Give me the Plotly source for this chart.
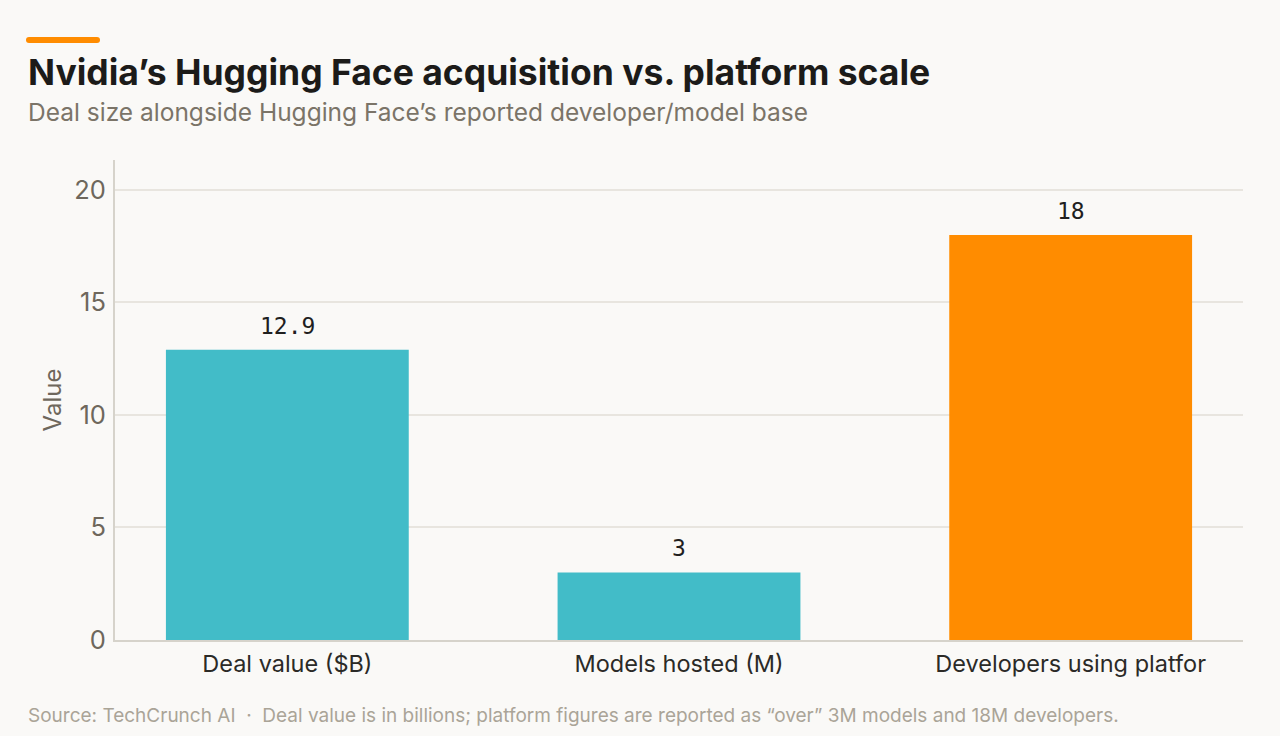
import plotly.graph_objects as go

categories = ["Deal value ($B)", "Models hosted (M)", "Developers using platfor"]
values = [12.9, 3, 18]
value_labels = ["12.9", "3", "18"]
bar_colors = ["#42bcc8", "#42bcc8", "#ff8c00"]
y_ticks = [0, 5, 10, 15, 20]

W, H = 1280, 736
L, R, T, B = 115, 37, 160, 96
PW, PH = W - L - R, H - T - B

def px(xp):
    return (xp - L) / PW

def py(yp):
    return (H - B - yp) / PH

fig = go.Figure()
fig.add_trace(go.Bar(
    x=categories, y=values,
    marker=dict(color=bar_colors, line=dict(width=0)),
    width=0.62,
    hoverinfo="skip",
))

for c, v, t in zip(categories, values, value_labels):
    fig.add_annotation(x=c, y=v, text=t, showarrow=False, yanchor="bottom",
                       yshift=9, xref="x", yref="y",
                       font=dict(family="DejaVu Sans Mono", size=23, color="#1f1f1f"))

# title, subtitle, footer
fig.add_annotation(x=px(26), y=py(72), xref="paper", yref="paper", xanchor="left", yanchor="middle",
                   text="<b>Nvidia’s Hugging Face acquisition vs. platform scale</b>", showarrow=False,
                   font=dict(family="Inter", size=35.5, color="#1c1b19"))
fig.add_annotation(x=px(26), y=py(112), xref="paper", yref="paper", xanchor="left", yanchor="middle",
                   text="Deal size alongside Hugging Face’s reported developer/model base", showarrow=False,
                   font=dict(family="Inter", size=24.5, color="#7b7468"))
fig.add_annotation(x=px(26), y=py(715), xref="paper", yref="paper", xanchor="left", yanchor="middle",
                   text="Source: TechCrunch AI  ·  Deal value is in billions; platform figures are reported as “over” 3M models and 18M developers.",
                   showarrow=False,
                   font=dict(family="Inter", size=19, color="#aaa497"))

# accent bar with rounded ends
x0, x1, y0, y1, r = 26, 100, 37, 43, 3
def P(xp, yp):
    return f"{px(xp)},{py(yp)}"
path = (f"M {P(x0 + r, y0)} L {P(x1 - r, y0)} Q {P(x1, y0)} {P(x1, y0 + r)} "
        f"Q {P(x1, y1)} {P(x1 - r, y1)} L {P(x0 + r, y1)} Q {P(x0, y1)} {P(x0, y1 - r)} "
        f"Q {P(x0, y0)} {P(x0 + r, y0)} Z")
fig.add_shape(type="path", path=path, xref="paper", yref="paper",
              fillcolor="#ff8c00", line=dict(width=0))

fig.update_layout(
    width=W, height=H,
    margin=dict(l=L, r=R, t=T, b=B, pad=0),
    paper_bgcolor="#faf9f7", plot_bgcolor="#faf9f7",
    showlegend=False,
    font=dict(family="Inter"),
    xaxis=dict(
        range=[-0.44, 2.44], showgrid=False, zeroline=False,
        showline=True, linecolor="#d6d3cb", linewidth=2,
        ticks="", tickfont=dict(family="Inter", size=23.5, color="#2b2a27"),
        ticklabelstandoff=2,
    ),
    yaxis=dict(
        range=[0, 21.33], tickvals=y_ticks, showgrid=True, gridcolor="#e8e5df", gridwidth=1.5,
        zeroline=False, showline=True, linecolor="#d6d3cb", linewidth=2,
        ticks="", tickfont=dict(family="Inter", size=25.5, color="#6e675c"),
        ticklabelstandoff=2,
        title=dict(text="Value", font=dict(family="Inter", size=24, color="#6e675c"), standoff=6),
    ),
)

fig.write_html("out.html", config={"displayModeBar": False},
               post_script="document.body.style.margin='0';document.body.style.background='#faf9f7';")
